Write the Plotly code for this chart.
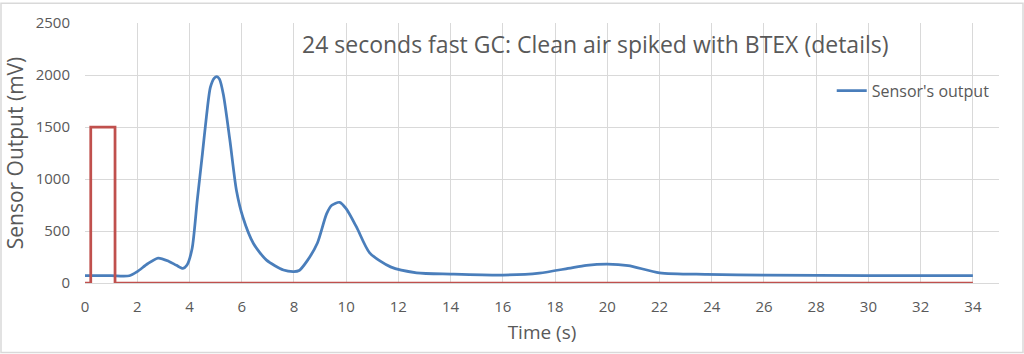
import plotly.graph_objects as go

# Sensor output (blue)
time_s = [0, 1.0, 1.7, 2.0, 2.4, 2.8, 3.2, 3.5, 3.75, 3.9, 4.1, 4.3, 4.5, 4.65, 4.8, 4.95,
          5.05, 5.15, 5.3, 5.55, 5.8, 6.05, 6.45, 6.95, 7.6, 8.0, 8.2, 8.5, 8.9, 9.25, 9.45,
          9.75, 10.0, 10.4, 10.9, 11.7, 12.7, 14, 16, 17.4, 18.5, 19.2, 20, 20.8, 22, 23.8,
          26, 30, 34]
sensor_mv = [70, 70, 70, 110, 185, 240, 210, 170, 140, 170, 330, 800, 1250, 1600, 1880, 1970,
             1985, 1960, 1810, 1370, 890, 630, 380, 220, 125, 110, 120, 210, 385, 665, 748,
             776, 715, 537, 290, 155, 98, 86, 76, 95, 140, 170, 182, 168, 98, 83,
             75, 72, 70]

# Injection pulse (red)
pulse_t = [0, 0.22, 0.22, 1.15, 1.15, 34]
pulse_mv = [0, 0, 1500, 1500, 0, 0]

x_ticks = list(range(0, 35, 2))
y_ticks = [0, 500, 1000, 1500, 2000, 2500]

grey = "#595959"
grid = "#d9d9d9"
font_family = "Open Sans, Liberation Sans, sans-serif"

fig = go.Figure()
fig.add_trace(go.Scatter(x=time_s, y=sensor_mv, mode="lines", name="Sensor's output",
                         line=dict(color="#4a7ebb", width=2.75, shape="spline", smoothing=0.7)))
fig.add_trace(go.Scatter(x=pulse_t, y=pulse_mv, mode="lines", name="Pulse", showlegend=False,
                         line=dict(color="#c0504d", width=2.75)))

fig.update_layout(
    width=1024, height=354,
    margin=dict(l=85, r=25, t=21, b=71),
    paper_bgcolor="white", plot_bgcolor="white",
    font=dict(family=font_family, color=grey, size=15),
    showlegend=True,
    legend=dict(x=0.817, y=0.74, xanchor="left", yanchor="middle",
                bgcolor="rgba(0,0,0,0)", font=dict(size=16, color=grey)),
    xaxis=dict(range=[0, 35], tickvals=x_ticks, showgrid=True, gridcolor=grid, gridwidth=1,
               zeroline=False, showline=True, linecolor=grid, ticks="",
               ticklabelstandoff=10,
               tickfont=dict(size=15, color=grey),
               title=dict(text="Time (s)", font=dict(size=19, color=grey), standoff=10)),
    yaxis=dict(range=[0, 2500], tickvals=y_ticks, showgrid=True, gridcolor=grid, gridwidth=1,
               zeroline=False, showline=False, ticks="",
               ticklabelstandoff=14,
               tickfont=dict(size=15, color=grey),
               title=dict(text="Sensor Output (mV)", font=dict(size=21, color=grey), standoff=6)),
    annotations=[dict(text="24 seconds fast GC: Clean air spiked with BTEX (details)",
                      xref="paper", yref="paper", x=0.558, y=0.92,
                      xanchor="center", yanchor="middle", showarrow=False,
                      font=dict(size=23, color=grey))],
    shapes=[dict(type="rect", xref="paper", yref="paper",
                 x0=-84/914, x1=938/914, y0=-70/262, y1=282/262,
                 line=dict(color=grid, width=1.5), fillcolor="rgba(0,0,0,0)", layer="below")],
)

fig.write_html("out.html")
